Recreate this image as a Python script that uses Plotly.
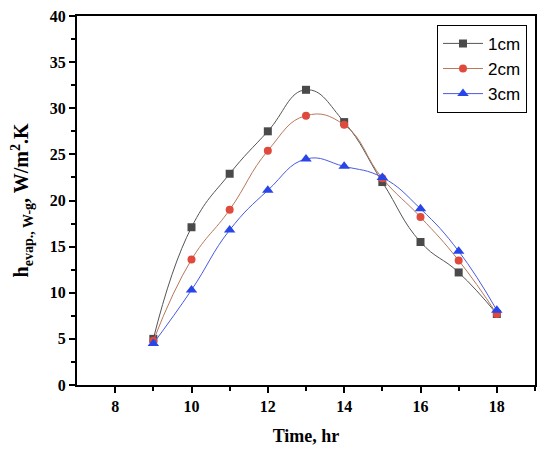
import plotly.graph_objects as go

# Time of day (hr)
time_hr = [9, 10, 11, 12, 13, 14, 15, 16, 17, 18]

# h_evap values for the three water depths (W/m2.K)
h_1cm = [5.0, 17.1, 22.9, 27.5, 32.0, 28.5, 22.0, 15.5, 12.2, 7.7]
h_2cm = [4.8, 13.6, 19.0, 25.4, 29.2, 28.2, 22.4, 18.2, 13.5, 7.7]
h_3cm = [4.5, 10.3, 16.8, 21.1, 24.5, 23.7, 22.5, 19.1, 14.5, 8.1]

series = [
    ("1cm", h_1cm, "#4a4a4a", "#555555", "square", 8),
    ("2cm", h_2cm, "#e04a3c", "#b8785a", "circle", 8),
    ("3cm", h_3cm, "#2846e8", "#4a5ae0", "triangle-up", 10),
]

fig = go.Figure()
for name, vals, mcol, lcol, sym, size in series:
    fig.add_trace(go.Scatter(
        x=time_hr, y=vals, name=name, mode="lines+markers",
        line=dict(color=lcol, width=1, shape="spline", smoothing=1.3),
        marker=dict(symbol=sym, size=size, color=mcol),
    ))

axis_font = dict(family="Liberation Serif", size=16, color="black", weight="bold")

# page body has an 8px margin, so the figure is a bit smaller than the window
fig.update_layout(
    width=542, height=444,
    margin=dict(l=69, r=15, t=8, b=67),
    paper_bgcolor="white", plot_bgcolor="white",
    legend=dict(
        x=0.786, y=0.976, xanchor="left", yanchor="top",
        bordercolor="black", borderwidth=1, bgcolor="white",
        font=dict(family="Liberation Sans", size=17, color="black"),
        itemwidth=40, tracegroupgap=0,
    ),
    showlegend=True,
)

fig.update_xaxes(
    range=[7, 19], tickvals=[8, 10, 12, 14, 16, 18], automargin=False,
    ticks="outside", ticklen=6, tickwidth=2, tickcolor="black",
    minor=dict(tickvals=[9, 11, 13, 15, 17, 19], ticks="outside", ticklen=4, tickwidth=1.5, tickcolor="black"),
    showline=True, linecolor="black", linewidth=2, mirror=True,
    showgrid=False, zeroline=False, tickfont=axis_font, ticklabeloverflow="allow",
    title=dict(text="Time, hr", font=dict(family="Liberation Serif", size=18, color="black", weight="bold"), standoff=15),
)

fig.update_yaxes(
    range=[0, 40], dtick=5, automargin=False,
    ticks="outside", ticklen=6, tickwidth=2, tickcolor="black",
    minor=dict(dtick=2.5, ticks="outside", ticklen=4, tickwidth=1.5, tickcolor="black"),
    showline=True, linecolor="black", linewidth=2, mirror=True,
    showgrid=False, zeroline=False, tickfont=axis_font, ticklabeloverflow="allow",
    title=dict(text="h<sub>evap., W-g</sub>, W/m<sup>2</sup>.K",
               font=dict(family="Liberation Serif", size=20, color="black", weight="bold"), standoff=18),
)

fig.write_html("out.html")
